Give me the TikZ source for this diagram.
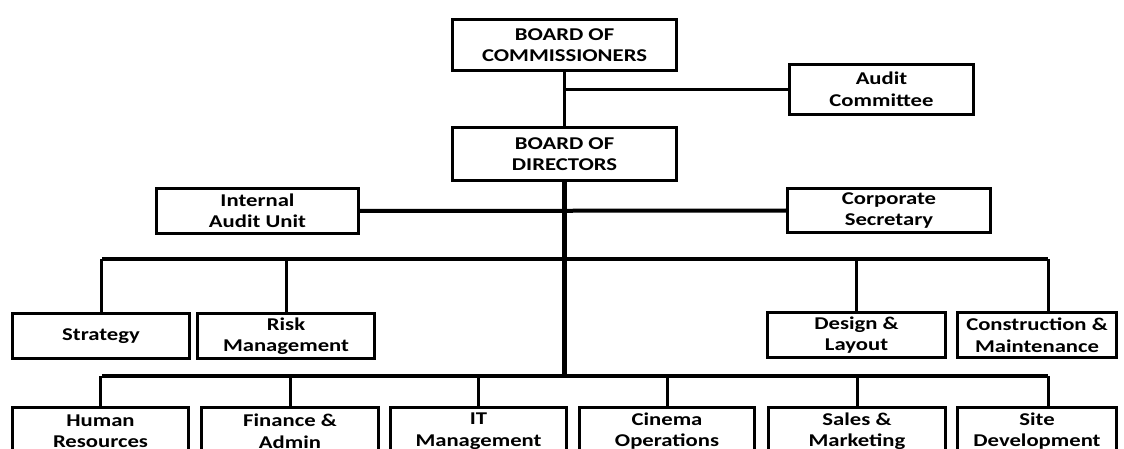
\documentclass[tikz,border=0pt]{standalone}
\usepackage{fontspec}
\setmainfont[FakeStretch=1.26]{Carlito}
\begin{document}
\begin{tikzpicture}[x=1pt,y=-1pt,
  box/.style={draw, line width=3pt, rectangle, align=center, inner sep=0pt,
    font=\bfseries\fontsize{18}{21.5}\selectfont},
  bus/.style={line width=4.5pt},
  drop/.style={line width=3pt},
  trunk/.style={line width=5.5pt},
  link/.style={line width=3pt}]
\clip (0,0) rectangle (1124,449);
\fill[white] (0,0) rectangle (1124,449);
% top
\node[box, minimum width=224pt, minimum height=51pt] (comm) at (564.5,45) {BOARD OF\\COMMISSIONERS};
\node[box, minimum width=184pt, minimum height=50pt] (ac) at (881.5,89.5) {Audit\\Committee};
\node[box, minimum width=224pt, minimum height=53pt] (dir) at (564.5,154) {BOARD OF\\DIRECTORS};
\node[box, minimum width=202pt, minimum height=45pt] (iau) at (257.5,211) {Internal\\Audit Unit};
\node[box, minimum width=203pt, minimum height=44pt] (cs) at (889,210.5) {Corporate\\Secretary};
% middle row
\node[box, minimum width=177pt, minimum height=45pt] (strat) at (101,336) {Strategy};
\node[box, minimum width=177pt, minimum height=45pt] (risk) at (286,336) {Risk\\Management};
\node[box, minimum width=178pt, minimum height=45pt] (des) at (856.5,335) {Design \&\\Layout};
\node[box, minimum width=159pt, minimum height=45pt] (cm) at (1037,335) {Construction \&\\Maintenance};
% bottom row
\node[box, minimum width=176pt, minimum height=47pt] (hr) at (100.5,431) {Human\\Resources};
\node[box, minimum width=177pt, minimum height=47pt] (fin) at (290,431) {Finance \&\\Admin};
\node[box, minimum width=176pt, minimum height=47pt] (it) at (478.5,431) {IT\\Management};
\node[box, minimum width=175pt, minimum height=47pt] (cin) at (667,431) {Cinema\\Operations};
\node[box, minimum width=177pt, minimum height=47pt] (sal) at (857,431) {Sales \&\\Marketing};
\node[box, minimum width=159pt, minimum height=47pt] (site) at (1037,431) {Site\\Development};
% bus coordinates
\coordinate (ubL) at (102,259);
\coordinate (ubR) at (1048,259);
\coordinate (lbL) at (102,376);
\coordinate (lbR) at (1048,376);
% connectors
\draw[line width=2.5pt] (comm.south) -- (dir.north);
\draw[link] (ac.west) -- (ac.west -| comm.south);
\draw[line width=4pt] (iau.east) -- (cs.west);
\draw[trunk] (dir.south) -- (dir.south |- lbL);
\draw[bus] (ubL) -- (ubR);
\draw[bus] (lbL) -- (lbR);
\draw[drop] (strat.north) -- (strat.north |- ubL);
\draw[drop] (risk.north) -- (risk.north |- ubL);
\draw[drop] (des.north) -- (des.north |- ubL);
\draw[drop] (cm.north -| ubR) -- (ubR);
\draw[drop] (hr.north) -- (hr.north |- lbL);
\draw[drop] (fin.north) -- (fin.north |- lbL);
\draw[drop] (it.north) -- (it.north |- lbL);
\draw[drop] (cin.north) -- (cin.north |- lbL);
\draw[drop] (sal.north) -- (sal.north |- lbL);
\draw[drop] (site.north -| lbR) -- (lbR);
\end{tikzpicture}
\end{document}
